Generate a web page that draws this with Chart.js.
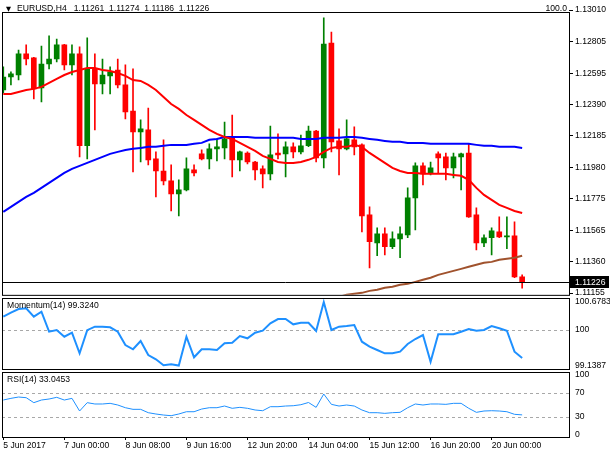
<!DOCTYPE html>
<html><head><meta charset="utf-8">
<script src="https://cdn.jsdelivr.net/npm/chart.js@4.4.1/dist/chart.umd.min.js"></script>
<style>
html,body{margin:0;padding:0;background:#fff;overflow:hidden}
#wrap{position:relative;width:610px;height:457px;background:#fff;font-family:"Liberation Sans",Arial,sans-serif}
#wrap canvas{position:absolute;left:0}
.t{position:absolute;font-size:8.6px;line-height:10px;color:#000;white-space:pre}
</style></head><body>
<div id="wrap">
<canvas id="cMain" width="610" height="302" style="top:0px"></canvas>
<canvas id="cMom" width="610" height="87" style="top:290px"></canvas>
<canvas id="cRsi" width="610" height="93" style="top:364px"></canvas>
<div class="t" style="left:6px;top:4px;font-size:6.5px;font-family:'DejaVu Sans'">▼</div>
<div class="t" style="left:17px;top:3px">EURUSD,H4   1.11261  1.11274  1.11186  1.11226</div>
<div class="t" style="right:43px;top:3px">100.0</div>
<div class="t" style="left:7px;top:300px">Momentum(14) 99.3240</div>
<div class="t" style="left:7px;top:374px">RSI(14) 33.0453</div>
</div>
<script>
const timeLabels = ['5 Jun 2017','7 Jun 00:00','8 Jun 08:00','9 Jun 16:00','12 Jun 20:00','14 Jun 04:00','15 Jun 12:00','16 Jun 20:00','20 Jun 00:00'];
const timeLabelBars = [0,8,16,24,32,40,48,56,64];
const priceTicks = [1.11155,1.11360,1.11565,1.11775,1.11980,1.12185,1.12390,1.12595,1.12805,1.13010];
const bidPrice = 1.11226;

const opens = [1.12486,1.12571,1.12584,1.12722,1.12696,1.12499,1.12656,1.12689,1.12781,1.12650,
 1.12722,1.12120,1.12624,1.12525,1.12578,1.12617,1.12519,1.12348,1.12211,1.12224,
 1.12034,1.11955,1.11890,1.11805,1.11831,1.11962,1.12067,1.12034,1.12100,1.12106,
 1.12178,1.12028,1.12073,1.12014,1.11969,1.11936,1.12073,1.12067,1.12113,1.12080,
 1.12120,1.12217,1.12041,1.12794,1.12152,1.12100,1.12159,1.12126,1.11667,1.11484,
 1.11543,1.11458,1.11510,1.11536,1.11779,1.11988,1.11942,1.12067,1.12047,1.11975,
 1.12047,1.12073,1.11667,1.11484,1.11517,1.11556,1.11523,1.11530,1.11261];
const highs = [1.12637,1.12604,1.12748,1.12781,1.12700,1.12774,1.12840,1.12820,1.12785,1.12781,
 1.12768,1.12827,1.12722,1.12689,1.12637,1.12689,1.12650,1.12624,1.12290,1.12368,
 1.12080,1.12159,1.11995,1.11897,1.12041,1.11995,1.12093,1.12133,1.12165,1.12276,
 1.12322,1.12085,1.12080,1.12018,1.11988,1.12250,1.12198,1.12146,1.12139,1.12191,
 1.12250,1.12222,1.12958,1.12866,1.12231,1.12290,1.12244,1.12133,1.11720,1.11582,
 1.11582,1.11556,1.11589,1.11844,1.12008,1.12008,1.12014,1.12080,1.12073,1.12073,
 1.12073,1.12133,1.11713,1.11536,1.11582,1.11654,1.11654,1.11621,1.11274];
const lows = [1.12466,1.12519,1.12551,1.12650,1.12427,1.12407,1.12624,1.12670,1.12617,1.12584,
 1.12047,1.12034,1.12224,1.12460,1.12460,1.12499,1.12296,1.11949,1.12014,1.11995,
 1.11785,1.11864,1.11693,1.11661,1.11825,1.11923,1.12028,1.11969,1.12021,1.12034,
 1.11916,1.11955,1.12001,1.11897,1.11844,1.11897,1.12034,1.11916,1.12041,1.12067,
 1.12115,1.12014,1.11975,1.12080,1.11929,1.12093,1.12060,1.11556,1.11320,1.11399,
 1.11405,1.11445,1.11386,1.11517,1.11569,1.11864,1.11929,1.11942,1.11897,1.11910,
 1.11831,1.11650,1.11438,1.11458,1.11405,1.11517,1.11445,1.11255,1.11186];
const closes = [1.12571,1.12591,1.12722,1.12689,1.12493,1.12656,1.12689,1.12781,1.12650,1.12722,
 1.12120,1.12624,1.12525,1.12584,1.12604,1.12519,1.12342,1.12211,1.12231,1.12028,
 1.11955,1.11890,1.11805,1.11831,1.11969,1.11942,1.12034,1.12100,1.12113,1.12165,
 1.12028,1.12080,1.12014,1.11962,1.11936,1.12060,1.12060,1.12113,1.12080,1.12120,
 1.12217,1.12041,1.12787,1.12146,1.12100,1.12165,1.12113,1.11661,1.11491,1.11543,
 1.11458,1.11510,1.11543,1.11779,1.11988,1.11936,1.11975,1.12041,1.11975,1.12047,
 1.12067,1.11654,1.11484,1.11517,1.11562,1.11523,1.11530,1.11261,1.11226];

const maRed = [1.12460,1.12460,1.12473,1.12486,1.12493,1.12506,1.12532,1.12558,1.12584,1.12604,
 1.12617,1.12630,1.12630,1.12617,1.12610,1.12597,1.12578,1.12551,1.12545,1.12519,
 1.12486,1.12440,1.12394,1.12362,1.12322,1.12290,1.12257,1.12224,1.12198,1.12178,
 1.12165,1.12139,1.12113,1.12086,1.12054,1.12034,1.12014,1.12008,1.12008,1.12014,
 1.12028,1.12047,1.12080,1.12106,1.12113,1.12113,1.12126,1.12113,1.12073,1.12041,
 1.12008,1.11975,1.11955,1.11942,1.11942,1.11936,1.11936,1.11936,1.11936,1.11929,
 1.11923,1.11897,1.11844,1.11798,1.11765,1.11733,1.11713,1.11693,1.11680];
const maBlue = [1.11687,1.11720,1.11752,1.11785,1.11811,1.11844,1.11877,1.11910,1.11942,1.11969,
 1.11988,1.12008,1.12028,1.12047,1.12067,1.12080,1.12093,1.12100,1.12106,1.12113,
 1.12113,1.12120,1.12126,1.12126,1.12126,1.12133,1.12139,1.12159,1.12165,1.12178,
 1.12178,1.12178,1.12178,1.12172,1.12172,1.12172,1.12172,1.12172,1.12172,1.12165,
 1.12165,1.12165,1.12172,1.12172,1.12172,1.12178,1.12178,1.12172,1.12165,1.12159,
 1.12152,1.12146,1.12146,1.12139,1.12139,1.12139,1.12133,1.12133,1.12133,1.12133,
 1.12133,1.12133,1.12126,1.12120,1.12120,1.12113,1.12113,1.12113,1.12106];
const maBrownFrom = 42;
const maBrown = [1.11117,1.11124,1.11130,1.11143,1.11150,1.11156,1.11169,1.11176,1.11189,1.11196,
 1.11209,1.11215,1.11228,1.11242,1.11255,1.11274,1.11287,1.11300,1.11313,1.11327,
 1.11340,1.11353,1.11359,1.11373,1.11379,1.11386,1.11399];

const momentum = [100.322,100.419,100.508,100.525,100.322,100.443,99.959,100.000,99.838,99.935,
 99.436,99.995,100.080,100.080,100.065,99.959,99.637,99.533,99.734,99.395,
 99.291,99.145,99.170,99.1387,99.838,99.339,99.533,99.533,99.516,99.678,
 99.692,99.855,99.799,99.935,99.983,100.162,100.266,100.266,100.138,100.177,
 100.177,99.976,100.6783,100.000,100.080,100.097,100.121,99.717,99.596,99.516,
 99.436,99.436,99.475,99.661,99.782,99.879,99.232,99.896,99.896,99.896,
 99.959,100.024,99.983,100.000,100.097,100.041,99.983,99.475,99.324];
const momentumTicks = [99.1387,100,100.6783];
const momentumTickLabels = ['99.1387','100','100.6783'];
const momentumLevels = [100];

const rsi = [57.8,60.6,62.8,61.7,53.4,57.8,59.5,62.3,57.8,60.6,
 39.5,53.4,51.2,51.2,52.3,49.5,45.0,42.3,42.3,36.7,
 34.5,32.8,31.7,34.5,38.3,38.3,42.8,45.0,45.0,47.8,
 44.0,45.6,44.0,41.2,40.0,46.7,46.7,47.8,48.3,50.0,
 53.7,45.6,67.8,50.6,47.8,49.5,47.8,41.2,36.7,36.7,
 35.6,36.7,37.3,45.0,51.2,49.5,51.2,51.2,50.6,52.3,
 52.3,44.0,37.3,39.5,40.0,39.5,38.3,34.0,33.0453];
const rsiTicks = [0,30,70,100];
const rsiLevels = [30,70];

// ---------- rendering ----------
const UP = '#008000', DOWN = '#ff0000';
const barIndex = opens.map((_, i) => i);
const candleColor = barIndex.map(i => closes[i] >= opens[i] ? UP : DOWN);
const X_MIN = -0.17, X_MAX = 74.14;

Chart.defaults.font.family = '"Liberation Sans", Arial, sans-serif';
Chart.defaults.font.size = 8.6;
Chart.defaults.color = '#000';
Chart.defaults.animation = false;
Chart.defaults.plugins.legend.display = false;
Chart.defaults.plugins.tooltip.enabled = false;

const framePlugin = {
  id: 'frame',
  afterDraw(chart) {
    const {ctx, chartArea: a} = chart;
    ctx.save();
    ctx.strokeStyle = '#000';
    ctx.lineWidth = 1;
    ctx.strokeRect(a.left + 0.5, a.top + 0.5, a.right - a.left, a.bottom - a.top);
    ctx.restore();
  }
};
const levelPlugin = {
  id: 'levels',
  beforeDatasetsDraw(chart, args, opts) {
    const vals = opts.values || [];
    const {ctx, chartArea: a, scales: {y}} = chart;
    ctx.save();
    ctx.strokeStyle = '#a8a8a8';
    ctx.lineWidth = 1;
    ctx.setLineDash([3, 3]);
    vals.forEach(v => {
      const py = Math.round(y.getPixelForValue(v)) + 0.5;
      ctx.beginPath(); ctx.moveTo(a.left, py); ctx.lineTo(a.right, py); ctx.stroke();
    });
    ctx.restore();
  }
};
const bidPlugin = {
  id: 'bid',
  afterDraw(chart) {
    const {ctx, chartArea: a, scales: {y}} = chart;
    const py = Math.round(y.getPixelForValue(bidPrice)) + 0.5;
    ctx.save();
    ctx.strokeStyle = '#000'; ctx.lineWidth = 1;
    ctx.beginPath(); ctx.moveTo(a.left, py); ctx.lineTo(a.right, py); ctx.stroke();
    ctx.fillStyle = '#000';
    ctx.fillRect(a.right + 1, py - 6.5, 39, 12);
    ctx.fillStyle = '#fff';
    ctx.font = '8.6px "Liberation Sans", Arial, sans-serif';
    ctx.textBaseline = 'middle';
    ctx.fillText(bidPrice.toFixed(5), a.right + 6, py + 0.5);
    ctx.restore();
  }
};

function xAxis(show) {
  const s = {type: 'linear', min: X_MIN, max: X_MAX, offset: false, display: show,
    grid: {offset: false, drawOnChartArea: false}};
  if (show) {
    s.afterBuildTicks = ax => { ax.ticks = timeLabelBars.map(v => ({value: v})); };
    s.afterFit = ax => { ax.height = 17; };
    s.ticks = {autoSkip: false, maxRotation: 0, minRotation: 0, align: 'start', padding: 0,
      color: '#000', callback: (v, i) => timeLabels[i]};
    s.grid = {offset: false, drawOnChartArea: false, drawTicks: true, tickLength: 3, tickColor: '#000'};
    s.border = {display: false};
  }
  return s;
}
function yAxis(min, max, tickVals, labelFn, tickColor) {
  return {type: 'linear', position: 'right', min, max,
    afterBuildTicks: ax => { ax.ticks = tickVals.map(v => ({value: v})); },
    afterFit: ax => { ax.width = 41; },
    ticks: {autoSkip: false, padding: 2, color: '#000', callback: labelFn},
    grid: {drawOnChartArea: false, drawTicks: true, tickLength: 4, tickColor},
    border: {display: false}};
}
const pts = (arr, from = 0) => arr.map((v, i) => ({x: from + i, y: v}));

new Chart(document.getElementById('cMain'), {
  type: 'bar',
  data: {datasets: [
    {type: 'line', data: pts(maRed), borderColor: '#ff0000', borderWidth: 2, pointRadius: 0, order: 0},
    {type: 'line', data: pts(maBlue), borderColor: '#0000ff', borderWidth: 2, pointRadius: 0, order: 0},
    {type: 'line', data: pts(maBrown, maBrownFrom), borderColor: '#a0522d', borderWidth: 2, pointRadius: 0, order: 0},
    {type: 'bar', data: barIndex.map(i => ({x: i, y: [opens[i], closes[i]]})), backgroundColor: candleColor,
      barThickness: 5, grouped: false, minBarLength: 1, borderWidth: 0, order: 1},
    {type: 'bar', data: barIndex.map(i => ({x: i, y: [lows[i], highs[i]]})), backgroundColor: candleColor,
      barThickness: 1, grouped: false, borderWidth: 0, order: 2}
  ]},
  options: {
    responsive: false, devicePixelRatio: 1, events: [],
    layout: {padding: {left: 2, right: 0, top: 12, bottom: 7}},
    scales: {x: xAxis(false), y: yAxis(1.11143, 1.12997, priceTicks, v => v.toFixed(5), '#000')}
  },
  plugins: [framePlugin, bidPlugin]
});

new Chart(document.getElementById('cMom'), {
  type: 'line',
  data: {datasets: [{data: pts(momentum), borderColor: '#1e90ff', borderWidth: 2, pointRadius: 0}]},
  options: {
    responsive: false, devicePixelRatio: 1, events: [],
    layout: {padding: {left: 2, right: 0, top: 8, bottom: 8}},
    plugins: {levels: {values: momentumLevels}},
    scales: {x: xAxis(false), y: yAxis(99.056, 100.775, momentumTicks, (v, i) => momentumTickLabels[i], 'rgba(0,0,0,0)')}
  },
  plugins: [levelPlugin, framePlugin]
});

new Chart(document.getElementById('cRsi'), {
  type: 'line',
  data: {datasets: [{data: pts(rsi), borderColor: '#1e90ff', borderWidth: 1, pointRadius: 0}]},
  options: {
    responsive: false, devicePixelRatio: 1, events: [],
    layout: {padding: {left: 2, right: 0, top: 8, bottom: 3}},
    plugins: {levels: {values: rsiLevels}},
    scales: {x: xAxis(true), y: yAxis(-3.8, 104.5, rsiTicks, v => String(v), 'rgba(0,0,0,0)')}
  },
  plugins: [levelPlugin, framePlugin]
});
</script></body></html>
